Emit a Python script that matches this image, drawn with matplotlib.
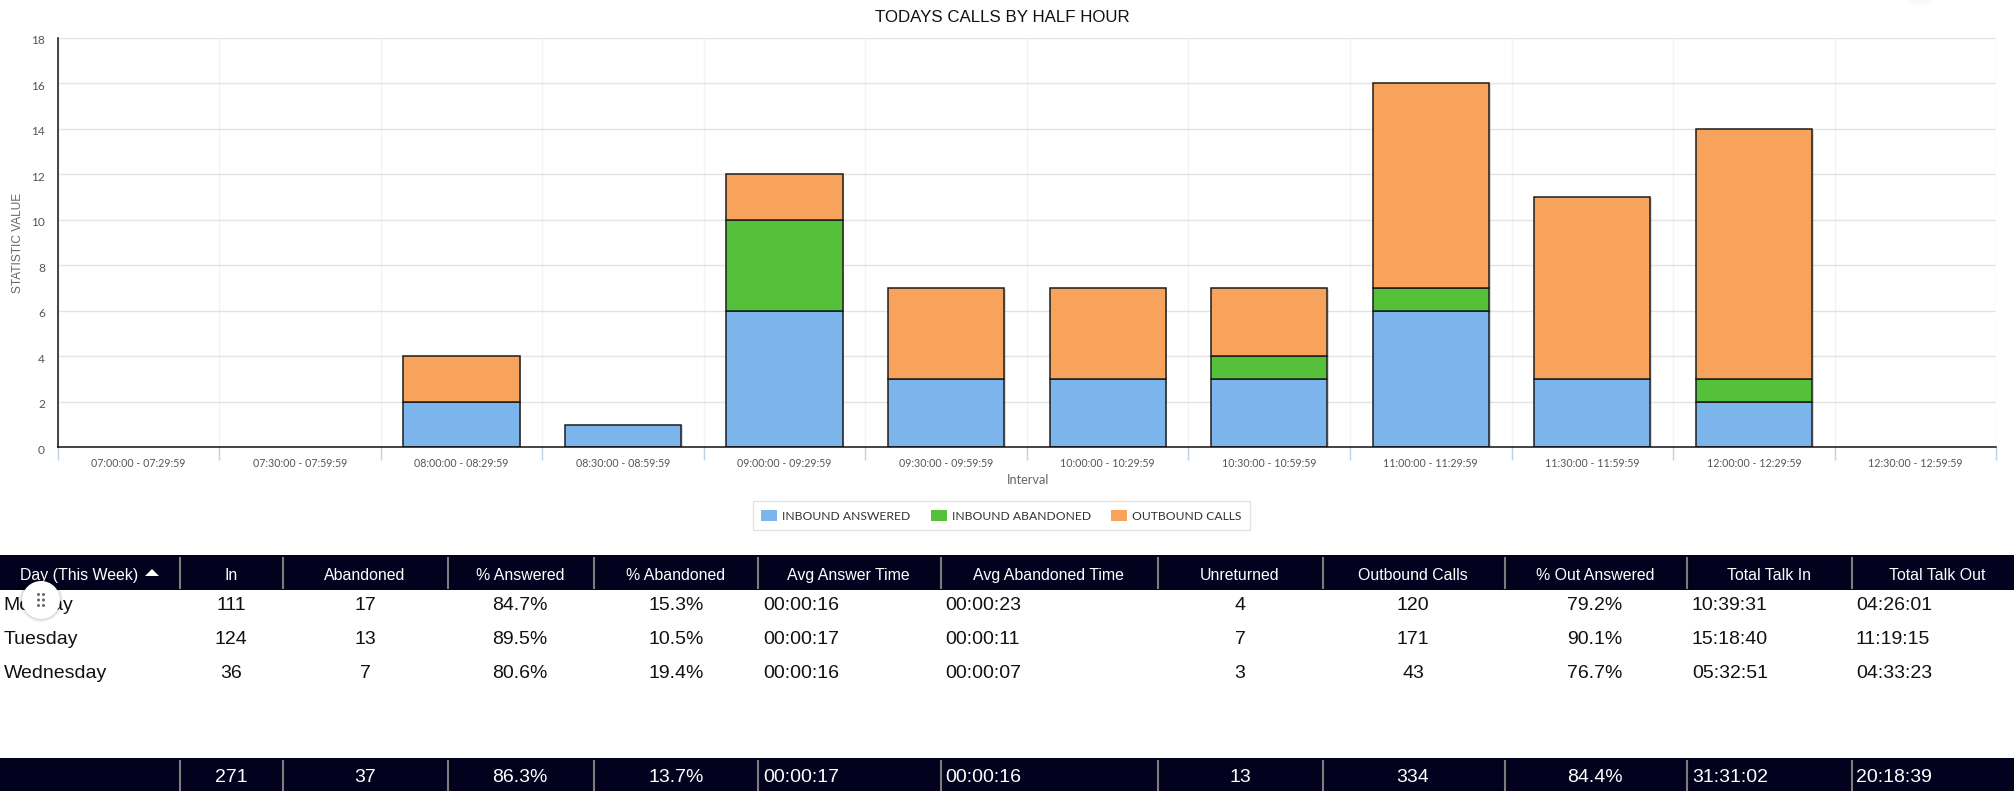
import matplotlib
matplotlib.use("Agg")
import matplotlib.pyplot as plt
from matplotlib.patches import Rectangle, Circle, Polygon
from matplotlib import patheffects as pe
from matplotlib.transforms import ScaledTranslation

W, H = 2015, 791
intervals = ["07:00:00 - 07:29:59", "07:30:00 - 07:59:59", "08:00:00 - 08:29:59", "08:30:00 - 08:59:59",
             "09:00:00 - 09:29:59", "09:30:00 - 09:59:59", "10:00:00 - 10:29:59", "10:30:00 - 10:59:59",
             "11:00:00 - 11:29:59", "11:30:00 - 11:59:59", "12:00:00 - 12:29:59", "12:30:00 - 12:59:59"]
answered = [0, 0, 2, 1, 6, 3, 3, 3, 6, 3, 2, 0]
abandoned = [0, 0, 0, 0, 4, 0, 0, 1, 1, 0, 1, 0]
outbound = [0, 0, 2, 0, 2, 4, 4, 3, 9, 8, 11, 0]
y_ticks = [0, 2, 4, 6, 8, 10, 12, 14, 16, 18]

headers = ["Day (This Week)", "In", "Abandoned", "% Answered", "% Abandoned", "Avg Answer Time",
           "Avg Abandoned Time", "Unreturned", "Outbound Calls", "% Out Answered", "Total Talk In", "Total Talk Out"]
rows = [
    ["Monday", "111", "17", "84.7%", "15.3%", "00:00:16", "00:00:23", "4", "120", "79.2%", "10:39:31", "04:26:01"],
    ["Tuesday", "124", "13", "89.5%", "10.5%", "00:00:17", "00:00:11", "7", "171", "90.1%", "15:18:40", "11:19:15"],
    ["Wednesday", "36", "7", "80.6%", "19.4%", "00:00:16", "00:00:07", "3", "43", "76.7%", "05:32:51", "04:33:23"],
]
totals = ["", "271", "37", "86.3%", "13.7%", "00:00:17", "00:00:16", "13", "334", "84.4%", "31:31:02", "20:18:39"]

SANS = "Liberation Sans"
LABEL = "Lato"
NAVY = "#02021f"
fig = plt.figure(figsize=(W / 100, H / 100), dpi=100, facecolor="white")

# ---- chart ----
L, R, T, B = 57.6, 1996.2, 37.7, 447.3
ax = fig.add_axes([L / W, 1 - B / H, (R - L) / W, (B - T) / H])
x = list(range(len(intervals)))
shadow = [pe.SimplePatchShadow(offset=(1.2, -0.6), shadow_rgbFace="#000000", alpha=0.15), pe.Normal()]
bot2 = [a + b for a, b in zip(answered, abandoned)]
kw = dict(width=0.72, edgecolor="#1c1c1c", linewidth=1.1, zorder=3)
b1 = ax.bar(x, answered, color="#7cb5ec", label="INBOUND ANSWERED", **kw)
b2 = ax.bar(x, abandoned, bottom=answered, color="#55c03a", label="INBOUND ABANDONED", **kw)
b3 = ax.bar(x, outbound, bottom=bot2, color="#f7a35c", label="OUTBOUND CALLS", **kw)
for c in (b1, b2, b3):
    for p in c:
        p.set_path_effects(shadow)
        if p.get_height() == 0:
            p.set_visible(False)
ax.set_xlim(-0.5, len(intervals) - 0.5)
ax.set_ylim(0, 18)
ax.set_yticks(y_ticks)
ax.set_xticks(x)
ax.set_xticklabels(intervals, fontfamily=LABEL, fontsize=7.7, color="#555555")
ax.set_xticks([i - 0.5 for i in range(len(intervals) + 1)], minor=True)
ax.tick_params(axis="x", which="major", length=0, pad=8)
ax.tick_params(axis="x", which="minor", length=9, width=1, color="#c0d0e0")
ax.tick_params(axis="y", length=0, pad=9)
offset = ScaledTranslation(0, -1.5 / 72, fig.dpi_scale_trans)
for t in ax.get_yticklabels():
    t.set_fontfamily(LABEL)
    t.set_fontsize(8.6)
    t.set_color("#555555")
    t.set_transform(t.get_transform() + offset)
ax.grid(axis="y", color="#e3e3e3", linewidth=1, zorder=0)
ax.grid(axis="x", which="minor", color="#f2f3f5", linewidth=1, zorder=0)
ax.set_axisbelow(True)
for s in ("top", "right"):
    ax.spines[s].set_visible(False)
for s in ("left", "bottom"):
    ax.spines[s].set_color("#111111")
    ax.spines[s].set_linewidth(1.1)
    ax.spines[s].set_zorder(5)

leg = fig.legend(handles=[b1, b2, b3], loc="center", bbox_to_anchor=(1001.5 / W, 1 - 515.8 / H), ncol=3,
                 frameon=True, fancybox=False, edgecolor="#dddddd", facecolor="white",
                 prop={"family": LABEL, "size": 8.75}, handlelength=1.3, handleheight=1.0,
                 handletextpad=0.45, columnspacing=1.65, borderpad=0.7, labelcolor="#333333")
leg.get_frame().set_linewidth(1)
for h in leg.legend_handles:
    h.set_visible(True)
    h.set_edgecolor("none")
    h.set_linewidth(0)
    h.set_path_effects([])

# ---- page overlay in pixel coordinates ----
o = fig.add_axes([0, 0, 1, 1], facecolor="none")
o.set_xlim(0, W)
o.set_ylim(H, 0)
o.axis("off")

o.text(1002, 18, "TODAYS CALLS BY HALF HOUR", ha="center", va="center", family=SANS, fontsize=12.2, color="#111111")
o.text(18.5, 242.5, "STATISTIC VALUE", ha="center", va="center", rotation=90, family=SANS, fontsize=8.6, color="#666666")
o.text(1028, 480, "Interval", ha="center", va="center", family=LABEL, fontsize=9.2, color="#666666")

seps = [180, 283.5, 447.8, 594, 758.5, 941, 1158.5, 1323, 1504.7, 1687, 1851.6]
hdr_x = [79.5, 231, 365, 520, 676, 848.7, 1048.7, 1240, 1413, 1595, 1768.6, 1937]
cell_x = [3.5, 231, 365, 520, 676, 763, 945, 1240, 1413, 1595, 1692, 1856]
cell_ha = ["left", "center", "center", "center", "center", "left", "left", "center", "center", "center", "left", "left"]
row_y = [605, 639, 673]

o.add_patch(Rectangle((0, 555), W, 35, fc=NAVY, ec="none"))
o.add_patch(Rectangle((0, 758), W, 33, fc=NAVY, ec="none"))
for sx in seps:
    o.plot([sx, sx], [557, 589], color="#7f7b7b", lw=1.5, solid_capstyle="butt")
    o.plot([sx, sx], [760, 791], color="#7f7b7b", lw=1.5, solid_capstyle="butt")
for hx, h in zip(hdr_x, headers):
    o.text(hx, 575.5, h, ha="center", va="center", family=SANS, fontsize=11.4, color="white")
o.add_patch(Polygon([(145, 576), (159, 576), (152, 569)], fc="white", ec="none"))
for ry, row in zip(row_y, rows):
    for cx, ha, v in zip(cell_x, cell_ha, row):
        o.text(cx, ry, v, ha=ha, va="center", family=SANS, fontsize=14, color="#111111")
for cx, ha, v in zip(cell_x, cell_ha, totals):
    o.text(cx, 777.5, v, ha=ha, va="center", family=SANS, fontsize=14, color="white")

# floating drag handle
for r, a in ((22, 0.04), (21, 0.05), (20, 0.07)):
    o.add_patch(Circle((41, 600), r, fc="#000000", ec="none", alpha=a, zorder=6))
o.add_patch(Circle((41, 600), 19, fc="white", ec="none", zorder=7))
for dx in (-2.5, 2.5):
    for dy in (-5.5, 0, 5.5):
        o.add_patch(Circle((41 + dx, 600 + dy), 1.5, fc="#666666", ec="none", zorder=8))

# faint shadow of a floating control cut by the top edge
for r, a in ((24, 0.012), (21, 0.016), (18, 0.02)):
    o.add_patch(Circle((1920, -18), r, fc="#000000", ec="none", alpha=a, clip_on=True))

fig.savefig("out.png", dpi=100, facecolor="white")
